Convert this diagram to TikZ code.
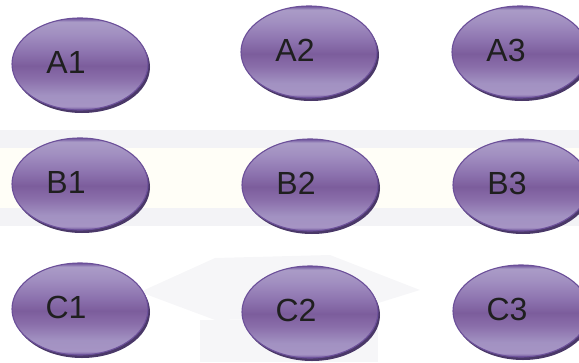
\documentclass[tikz,border=0pt]{standalone}
\usepackage{fontspec}
\setmainfont{Liberation Sans}
\usetikzlibrary{shapes.geometric,shadows}
\definecolor{cellline}{HTML}{6B4F99}
\definecolor{cellshadow}{HTML}{4A3868}
\definecolor{cellpaleA}{HTML}{A694C4}
\definecolor{cellpaleB}{HTML}{A292C2}
\definecolor{cellmidA}{HTML}{8A6EAA}
\definecolor{celldark}{HTML}{7C5D9C}
\definecolor{cellmidB}{HTML}{8C72AE}
\definecolor{cellpaleC}{HTML}{A18EC0}
\definecolor{cellpaleD}{HTML}{AA9BC7}
\definecolor{bandgray}{HTML}{F3F3F6}
\definecolor{bandcream}{HTML}{FFFEF7}
\definecolor{markgray}{HTML}{F6F6F8}
\pgfdeclareverticalshading{cellshade}{100bp}{%
  color(0bp)=(cellline);
  color(25bp)=(cellline);
  color(27bp)=(cellpaleA);
  color(33bp)=(cellpaleB);
  color(42bp)=(cellmidA);
  color(49bp)=(celldark);
  color(56bp)=(cellmidB);
  color(66bp)=(cellpaleC);
  color(73bp)=(cellpaleD);
  color(75bp)=(cellline);
  color(100bp)=(cellline)}
\tikzset{
  cell/.style={ellipse,minimum width=136pt,minimum height=92pt,inner sep=0pt,
    draw=cellline,line width=1.1pt,shading=cellshade,
    drop shadow={shadow xshift=2pt,shadow yshift=-3pt,fill=cellshadow,opacity=1}},
  celltext/.style={text=black!88,font=\fontsize{32}{34}\selectfont}
}
\begin{document}
\begin{tikzpicture}[x=1pt,y=-1pt]
			\useasboundingbox (0,0) rectangle (579,362);
			% faint background
			\fill[bandgray] (0,130) rectangle (579,226);
			\fill[bandcream] (0,148) rectangle (579,208);
			\fill[markgray] (140,292) -- (215,258) -- (330,255) -- (420,290)
			-- (330,318) -- (215,320) -- cycle;
			\fill[markgray] (200,320) rectangle (378,362);
			% cells
			\node[cell] (A1) at (80,64) {};
			\node[cell] (A2) at (309,52) {};
			\node[cell] (A3) at (520,52) {};
			\node[cell] (B1) at (80,184) {};
			\node[cell] (B2) at (310,185) {};
			\node[cell] (B3) at (521,185) {};
			\node[cell] (C1) at (80,309) {};
			\node[cell] (C2) at (310,312) {};
			\node[cell] (C3) at (521,311) {};
			\foreach \n in {A1,A2,A3,B1,B2,B3,C1,C2,C3}
			\node[celltext] at ([xshift=-14pt,yshift=1.5pt]\n.center) {\n};
\end{tikzpicture}
\end{document}
